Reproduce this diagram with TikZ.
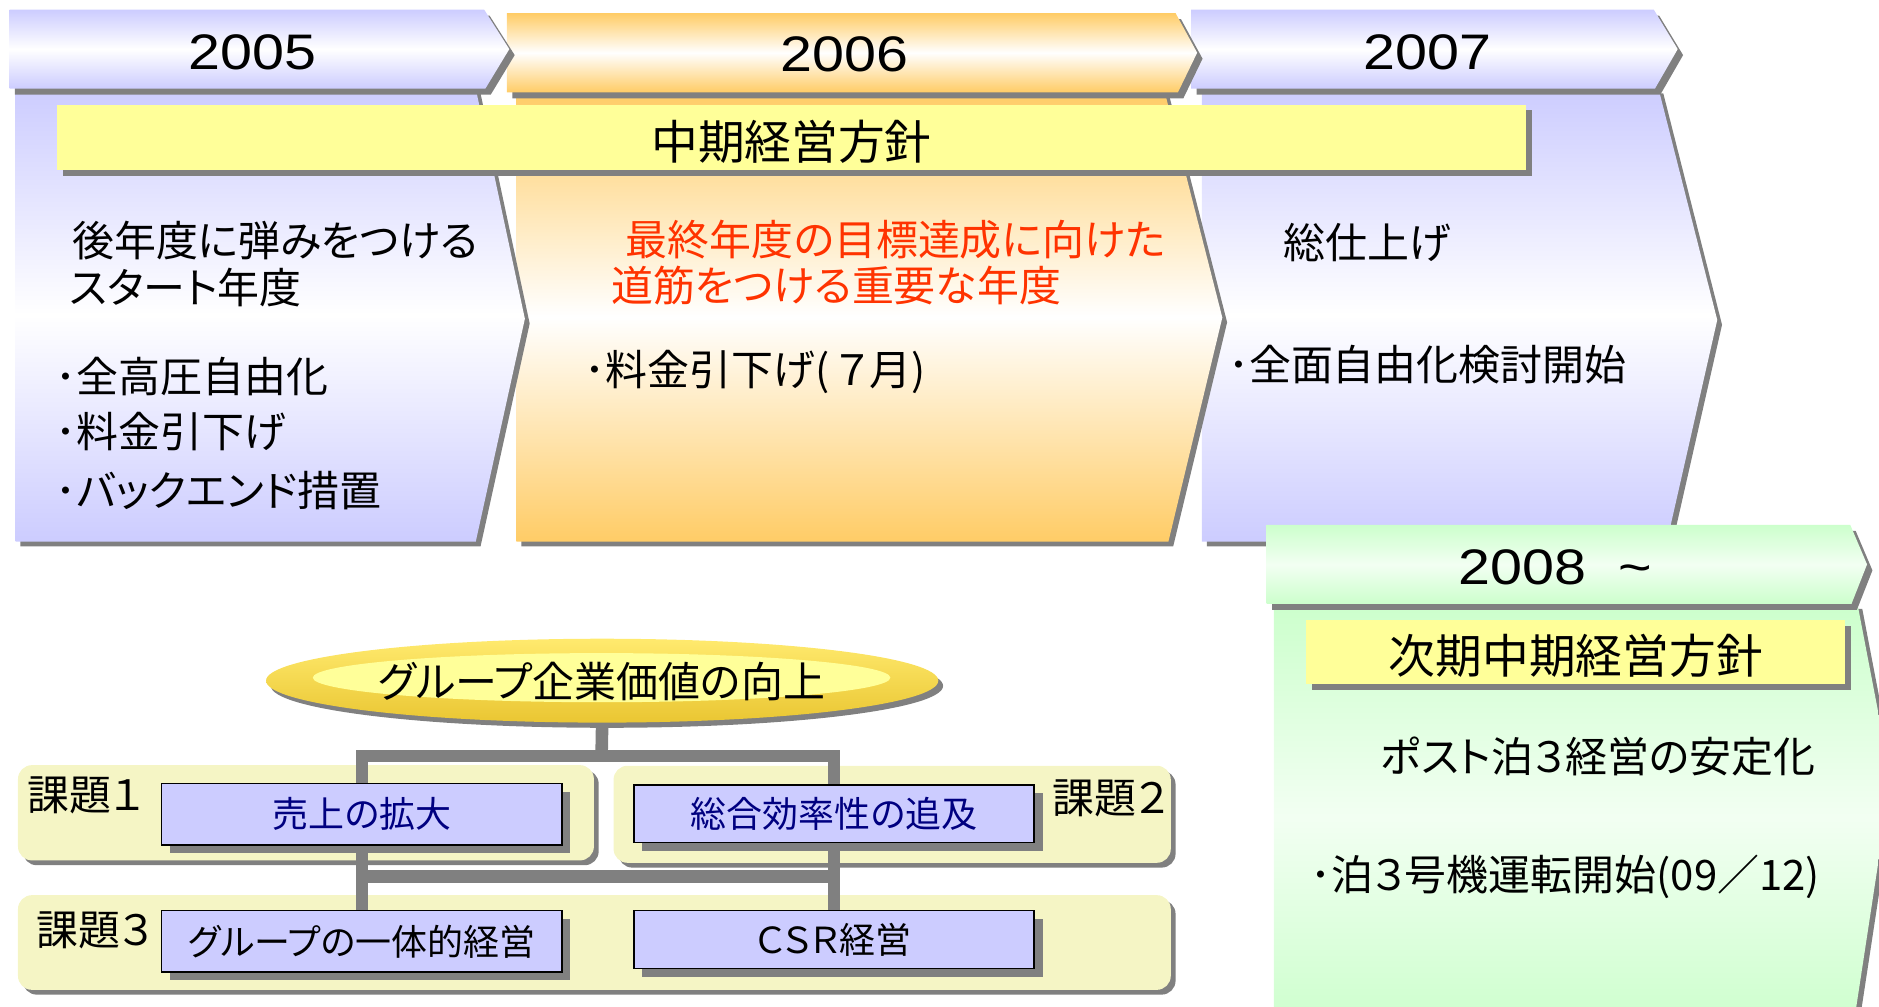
\documentclass[tikz,border=0pt]{standalone}
\usepackage{fontspec}
\setmainfont{Noto Sans CJK JP}[RawFeature=+palt]
\newfontfamily\yearfont{Liberation Sans}[FakeStretch=1.15]
\usetikzlibrary{shapes.geometric,shadows,calc}

\definecolor{lav}{RGB}{204,204,255}
\definecolor{org}{RGB}{255,204,102}
\definecolor{grn}{RGB}{204,255,204}
\definecolor{barY}{RGB}{255,255,153}
\definecolor{shd}{RGB}{128,128,128}
\definecolor{panel}{RGB}{245,245,197}
\definecolor{redtxt}{RGB}{255,51,0}
\definecolor{navy}{RGB}{0,0,128}
\definecolor{goldA}{RGB}{255,234,110}
\definecolor{goldB}{RGB}{234,198,50}

\pgfdeclarelayer{back}
\pgfdeclarelayer{mid}
\pgfsetlayers{back,mid,main}

\tikzset{
  shad/.style={fill=shd},
  lavshade/.style={top color=lav, bottom color=lav, middle color=white},
  orgshade/.style={top color=org, bottom color=org, middle color=white},
  grnshade/.style={top color=grn, bottom color=grn, middle color=grn!25!white},
  yellowbar/.style={fill=barY},
  yeartxt/.style={font=\yearfont\fontsize{25}{30}\selectfont, inner sep=0pt},
  bodytxt/.style={font=\fontsize{21}{25}\selectfont, inner sep=0pt, anchor=west},
  bartxt/.style={font=\fontsize{23.4}{28}\selectfont, inner sep=0pt},
  labeltxt/.style={font=\fontsize{21}{25}\selectfont, inner sep=0pt, anchor=west},
  panelbox/.style={fill=panel, rounded corners=7pt,
     drop shadow={shadow xshift=2.4pt, shadow yshift=-2.4pt, fill=shd, opacity=1}},
  taskbox/.style={draw=black, line width=0.7pt, fill=lav, inner sep=0pt,
     minimum width=200.4pt, font=\fontsize{18}{22}\selectfont,
     drop shadow={shadow xshift=4.2pt, shadow yshift=-4.2pt, fill=shd, opacity=1}},
  conn/.style={draw=shd, line width=6.3pt, line join=miter},
}

\begin{document}
\begin{tikzpicture}[x=0.6pt, y=-0.6pt]
\useasboundingbox (0,0) rectangle (1568,840);
\begin{scope}
\clip (0,0) rectangle (1568,840);

% ---------- 2007 ----------
\fill[shad, shift={(4,4)}] (1003,74) -- (1384,74) -- (1433,267) -- (1391,452) -- (1003,452) -- cycle;
\path[lavshade] (1003,74) -- (1384,74) -- (1433,267) -- (1391,452) -- (1003,452) -- cycle;
\fill[shad, shift={(4.5,5)}] (994,8) -- (1380,8) -- (1400,41) -- (1381,74) -- (994,74) -- cycle;
\path[lavshade] (994,8) -- (1380,8) -- (1400,41) -- (1381,74) -- (994,74) -- cycle;

% ---------- 2006 ----------
\fill[shad, shift={(4,4)}] (431,77) -- (972,77) -- (1020,265) -- (975,452) -- (431,452) -- cycle;
\path[orgshade] (431,77) -- (972,77) -- (1020,265) -- (975,452) -- (431,452) -- cycle;
\fill[shad, shift={(4.5,5)}] (423,11) -- (981,11) -- (999,44) -- (983,77) -- (423,77) -- cycle;
\path[orgshade] (423,11) -- (981,11) -- (999,44) -- (983,77) -- (423,77) -- cycle;

% ---------- 2005 ----------
\fill[shad, shift={(4,4)}] (13,74) -- (397,74) -- (438,266) -- (397,452) -- (13,452) -- cycle;
\path[lavshade] (13,74) -- (397,74) -- (438,266) -- (397,452) -- (13,452) -- cycle;
\fill[shad, shift={(4.5,5)}] (8,8) -- (404,8) -- (425,41) -- (405,74) -- (8,74) -- cycle;
\path[lavshade] (8,8) -- (404,8) -- (425,41) -- (405,74) -- (8,74) -- cycle;

% ---------- mid-term bar ----------
\fill[shad] (52.6,92.1) rectangle (1278,146.5);
\path[yellowbar] (47.6,87.6) rectangle (1273,142);
\node[bartxt] (plan) at (660.5,118.4) {中期経営方針};

% ---------- year labels ----------
\node[yeartxt] (y2005) at (211,43.3) {2005};
\node[yeartxt] (y2006) at (705,45.4) {2006};
\node[yeartxt] (y2007) at (1191.5,43.3) {2007};

% ---------- texts 2005 ----------
\node[bodytxt] (t1) at (60,201) {後年度に弾みをつける};
\node[bodytxt] (t2) at (58,240) {スタート年度};
\node[bodytxt] (t3) at (46,314) {･全高圧自由化};
\node[bodytxt] (t4) at (46,360.5) {･料金引下げ};
\node[bodytxt] (t5) at (46,409) {･バックエンド措置};

% ---------- texts 2006 ----------
\node[bodytxt, text=redtxt] (r1) at (522,200) {最終年度の目標達成に向けた};
\node[bodytxt, text=redtxt] (r2) at (510,238) {道筋をつける重要な年度};
\node[bodytxt] (t6) at (487.5,310) {･料金引下げ(\hspace{4pt}７月)};

% ---------- texts 2007 ----------
\node[bodytxt] (t7) at (1071,202) {総仕上げ};
\node[bodytxt] (t8) at (1024.5,304.5) {･全面自由化検討開始};

% ---------- 2008 ----------
\fill[shad, shift={(4,4)}] (1063,504) -- (1550,504) -- (1578,650) -- (1546,860) -- (1063,860) -- cycle;
\path[grnshade] (1063,504) -- (1550,504) -- (1578,650) -- (1546,860) -- (1063,860) -- cycle;
\fill[shad, shift={(4.5,5)}] (1057,438) -- (1544,438) -- (1558,471) -- (1545,504) -- (1057,504) -- cycle;
\path[grnshade] (1057,438) -- (1544,438) -- (1558,471) -- (1545,504) -- (1057,504) -- cycle;
\fill[shad] (1095,522) rectangle (1544.5,575.5);
\path[yellowbar] (1090,517.5) rectangle (1539.5,571);
\node[yeartxt, anchor=west] (y2008) at (1217,473) {2008\ \ \textasciitilde};
\node[bartxt] (nplan) at (1315,547.5) {次期中期経営方針};
\node[bodytxt] (g1) at (1152,631.5) {ポスト泊３経営の安定化};
\node[bodytxt] (g2) at (1093,731.5) {･泊３号機運転開始(09／12)};
\end{scope}

% ---------- task panels ----------
\begin{pgfonlayer}{back}
\path[panelbox] (15,638.5) rectangle (495.6,718);
\path[panelbox] (512,639) rectangle (977,720);
\path[panelbox] (15,747) rectangle (977,826);
\end{pgfonlayer}
\node[labeltxt] (k1) at (23,663.5) {課題１};
\node[labeltxt] (k2) at (878,666) {課題２};
\node[labeltxt] (k3) at (30,776) {課題３};

% ---------- boxes ----------
\node[taskbox, minimum height=30.6pt, text=navy] (b1) at (302,679.5) {売上の拡大};
\node[taskbox, minimum height=28.8pt, text=navy] (b2) at (696,679) {総合効率性の追及};
\node[taskbox, minimum height=30.6pt] (b3) at (302,785.5) {グループの一体的経営};
\node[taskbox, minimum height=28.8pt] (b4) at (696,784) {ＣＳＲ経営};

% ---------- ellipse ----------
\node[ellipse, inner sep=0pt, minimum width=336.6pt, minimum height=42pt,
      top color=goldA, bottom color=goldB,
      drop shadow={shadow xshift=2.4pt, shadow yshift=-2.6pt, fill=shd, opacity=1}]
      (ell) at (502.5,568) {};
\path[yellowbar] (502,565.5) ellipse [x radius=144.6pt, y radius=12.3pt];
\node[font=\fontsize{21}{25}\selectfont, inner sep=0pt] (elltxt) at (502,568.5) {グループ企業価値の向上};

% ---------- connectors ----------
\coordinate (jt) at (502,631);
\coordinate (jb) at (500,731.5);
\begin{pgfonlayer}{mid}
\draw[conn] (b1.north) |- (jt) -| (b2.north);
\draw[conn] (ell.south) -- (jt);
\draw[conn] (b1.south) -- (b3.north);
\draw[conn] (b2.south) -- (b4.north);
\draw[conn] (b1.south |- jb) -- (b2.south |- jb);
\end{pgfonlayer}
\end{tikzpicture}
\end{document}
